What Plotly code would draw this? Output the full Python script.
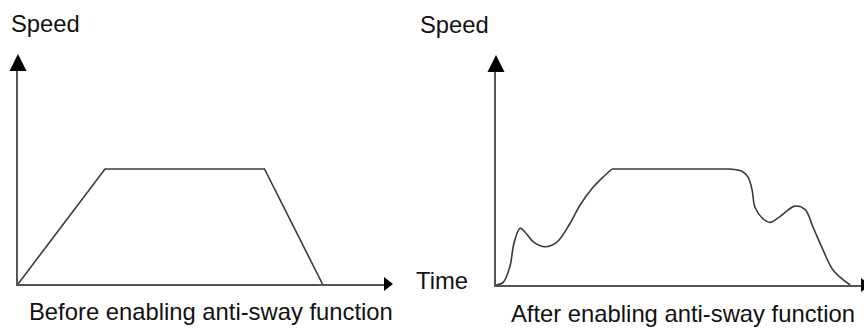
import plotly.graph_objects as go

# Speed profile without anti-sway: plain trapezoid (time in s, speed normalised)
before_time = [0, 3.0, 8.5, 10.5]
before_speed = [0, 1.0, 1.0, 0]

# Speed profile with anti-sway: shaped acceleration, flat run, shaped deceleration
accel_time = [0, 0.24, 0.48, 0.62, 0.83, 1.02, 1.3, 1.69, 2.1, 2.55, 2.9, 3.34, 3.69, 4.0]
accel_speed = [0, 0.02, 0.16, 0.36, 0.49, 0.45, 0.37, 0.33, 0.37, 0.53, 0.69, 0.84, 0.93, 1.0]
cruise_time = [4.0, 8.07]
cruise_speed = [1.0, 1.0]
decel_time = [8.07, 8.48, 8.69, 8.83, 8.93, 9.17, 9.45, 9.79, 10.31, 10.66, 10.93, 11.28, 11.62, 12.21]
decel_speed = [1.0, 0.98, 0.93, 0.82, 0.67, 0.58, 0.54, 0.59, 0.68, 0.65, 0.50, 0.30, 0.13, 0]

axis_label_y = "Speed"
axis_label_x = "Time"
caption_before = "Before enabling anti-sway function"
caption_after = "After enabling anti-sway function"

W, H = 864, 333
FONT = dict(family="Liberation Sans, Arial, sans-serif", size=23.8, color="#111111")
CURVE = dict(color="#3a3a3a", width=1.6)
AXIS_COLOR = "#555555"

fig = go.Figure()

fig.add_trace(go.Scatter(x=before_time, y=before_speed, mode="lines",
                         line=CURVE, xaxis="x", yaxis="y", hoverinfo="skip"))
fig.add_trace(go.Scatter(x=accel_time, y=accel_speed, mode="lines",
                         line=dict(shape="spline", smoothing=1, **CURVE),
                         xaxis="x2", yaxis="y2", hoverinfo="skip"))
fig.add_trace(go.Scatter(x=cruise_time, y=cruise_speed, mode="lines",
                         line=CURVE, xaxis="x2", yaxis="y2", hoverinfo="skip"))
fig.add_trace(go.Scatter(x=decel_time, y=decel_speed, mode="lines",
                         line=dict(shape="spline", smoothing=1, **CURVE),
                         xaxis="x2", yaxis="y2", hoverinfo="skip"))

# axis geometry in pixels (left panel / right panel)
L_X0, L_X1, L_Y0, L_Y1 = 18, 385, 284, 70
R_X0, R_X1, R_Y0, R_Y1 = 496, 862, 285, 71
PX_PER_S = 29.0
PX_PER_SPEED_L = 115.0
PX_PER_SPEED_R = 116.0

l_xmax = (L_X1 - L_X0) / PX_PER_S
l_ymax = (L_Y0 - L_Y1) / PX_PER_SPEED_L
r_xmax = (R_X1 - R_X0) / PX_PER_S
r_ymax = (R_Y0 - R_Y1) / PX_PER_SPEED_R


def axis_style(**kw):
    base = dict(showline=True, linecolor=AXIS_COLOR, linewidth=2, showgrid=False,
                zeroline=False, showticklabels=False, ticks="", fixedrange=True)
    base.update(kw)
    return base


fig.update_layout(
    width=W, height=H,
    margin=dict(l=0, r=0, t=0, b=0),
    paper_bgcolor="white", plot_bgcolor="white",
    showlegend=False,
    xaxis=axis_style(domain=[L_X0 / W, L_X1 / W], range=[0, l_xmax], anchor="y"),
    yaxis=axis_style(domain=[(H - L_Y0) / H, (H - L_Y1) / H], range=[0, l_ymax], anchor="x"),
    xaxis2=axis_style(domain=[R_X0 / W, R_X1 / W], range=[0, r_xmax], anchor="y2"),
    yaxis2=axis_style(domain=[(H - R_Y0) / H, (H - R_Y1) / H], range=[0, r_ymax], anchor="x2"),
)


# filled arrowheads at the ends of the axes (paper-anchored so they are not clipped)
def arrow(x_px, y_px, path):
    return dict(type="path", xref="paper", yref="paper", xsizemode="pixel", ysizemode="pixel",
                xanchor=x_px / W, yanchor=1 - y_px / H, path=path, fillcolor="black",
                line=dict(width=0), layer="above")


up_head = "M-8.5,-1 L8.5,-1 L0,16 Z"
right_head = "M-1,-7 L-1,7 L8,0 Z"
fig.update_layout(shapes=[
    arrow(L_X0, L_Y1, up_head),
    arrow(L_X1, L_Y0, right_head),
    arrow(R_X0, R_Y1, up_head),
    arrow(R_X1, R_Y0, right_head),
])


def label(text, x_px, y_px):
    return dict(text=text, x=x_px / W, y=1 - y_px / H, xref="paper", yref="paper",
                xanchor="left", yanchor="middle", showarrow=False, font=FONT)


fig.update_layout(annotations=[
    label(axis_label_y, 9, 23),
    label(axis_label_y, 418, 25),
    label(axis_label_x, 414, 280),
    label(caption_before, 27, 311),
    label(caption_after, 509, 313),
])

fig.write_html("out.html")
